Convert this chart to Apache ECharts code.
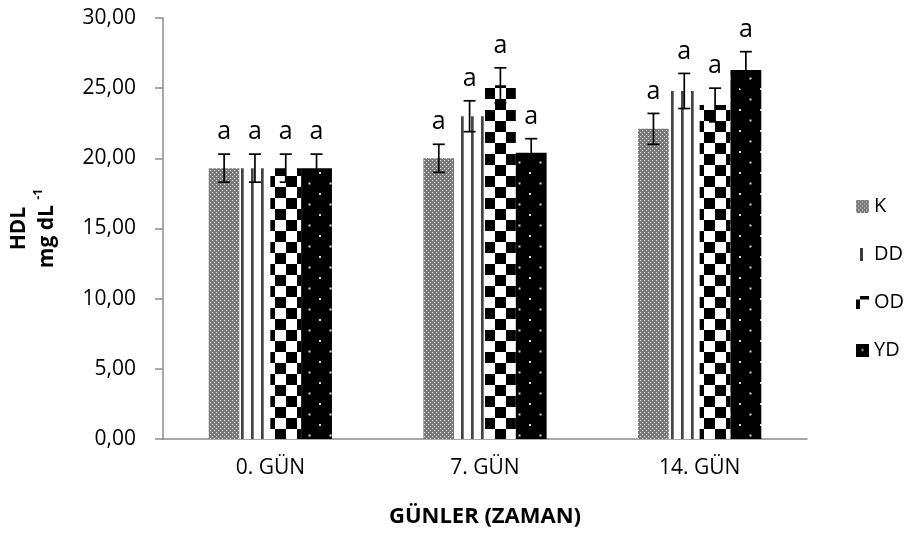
<!DOCTYPE html>
<html><head><meta charset="utf-8">
<script src="https://cdn.jsdelivr.net/npm/echarts@6/dist/echarts.min.js"></script>
<style>html,body{margin:0;padding:0;background:#fff}#c{width:905px;height:533px}</style>
</head><body><div id="c"></div>
<script>
// ---- data ----
const categories = ['0. GÜN', '7. GÜN', '14. GÜN'];
const seriesNames = ['K', 'DD', 'OD', 'YD'];
const valK  = [19.3, 20.0, 22.1];
const valDD = [19.3, 23.0, 24.8];
const valOD = [19.3, 25.2, 23.8];
const valYD = [19.3, 20.4, 26.3];
const errK  = [1.0, 1.0, 1.1];
const errDD = [1.0, 1.1, 1.25];
const errOD = [1.0, 1.25, 1.2];
const errYD = [1.0, 1.0, 1.3];
const letK  = ['a', 'a', 'a'];
const letDD = ['a', 'a', 'a'];
const letOD = ['a', 'a', 'a'];
const letYD = ['a', 'a', 'a'];
const yMin = 0, yMax = 30, yStep = 5;
const xTitle = 'GÜNLER (ZAMAN)';

const values = [valK, valDD, valOD, valYD];
const errors = [errK, errDD, errOD, errYD];
const letters = [letK, letDD, letOD, letYD];

// ---- patterns ----
function mk(w, h, draw) {
  const c = document.createElement('canvas'); c.width = w; c.height = h;
  const g = c.getContext('2d'); draw(g, w, h); return c;
}
function patK(g, w, h) {
  g.fillStyle = '#7a7a7a'; g.fillRect(0, 0, w, h);
  g.fillStyle = '#e6e6e6';
  for (let y = 0; y < h; y += 2) for (let x = (y / 2) % 2 ? 2 : 0; x < w; x += 4) g.fillRect(x, y, 1, 1);
}
const tileK = mk(4, 4, patK);
const tileDD = mk(10, 10, (g, w, h) => {
  g.fillStyle = '#fff'; g.fillRect(0, 0, w, h);
  g.fillStyle = '#454545'; g.fillRect(1, 0, 2.7, h);
});
const tileOD = mk(22, 22, (g, w, h) => {
  g.fillStyle = '#fff'; g.fillRect(0, 0, w, h);
  g.fillStyle = '#000'; g.fillRect(0, 0, 11, 11); g.fillRect(11, 11, 11, 11);
});
const tileYD = mk(21, 21, (g, w, h) => {
  g.fillStyle = '#000'; g.fillRect(0, 0, w, h);
  g.fillStyle = '#d8d8d8'; g.fillRect(4, 4, 2, 2); g.fillRect(14.5, 14.5, 2, 2);
});
const icons = [
  mk(13, 13, patK),
  mk(13, 13, (g, w, h) => { g.fillStyle = '#fff'; g.fillRect(0, 0, w, h); g.fillStyle = '#3a3a3a'; g.fillRect(4, 0, 3, h); }),
  mk(13, 13, (g, w, h) => { g.fillStyle = '#fff'; g.fillRect(0, 0, w, h); g.fillStyle = '#000'; g.fillRect(0, 4, 4, 9); g.fillRect(4, 0, 9, 4); }),
  mk(13, 13, (g, w, h) => { g.fillStyle = '#000'; g.fillRect(0, 0, w, h); g.fillStyle = '#bdbdbd'; g.fillRect(5.5, 5.5, 2, 2); })
].map(c => 'image://' + c.toDataURL());
const tiles = [tileK, tileDD, tileOD, tileYD];

const GAP = 0.426;
const FONT = '"Open Sans", "Noto Sans", sans-serif';

const barSeries = seriesNames.map((n, i) => ({
  name: n, type: 'bar', data: values[i],
  barGap: '0%', barCategoryGap: (GAP * 100) + '%',
  itemStyle: { color: { image: tiles[i], repeat: 'repeat' } },
  emphasis: { disabled: true }, animation: false
}));

const errData = [];
seriesNames.forEach((n, s) => categories.forEach((c, k) => errData.push([k, s, values[s][k], errors[s][k]])));

const errSeries = {
  type: 'custom', name: 'err', data: errData, z: 10, animation: false,
  encode: { x: 0, y: 2 },
  renderItem(params, api) {
    const k = api.value(0), s = api.value(1), v = api.value(2), e = api.value(3);
    const band = api.size([1, 0])[0];
    const bw = band * (1 - GAP) / 4;
    const cx = api.coord([k, 0])[0] - 2 * bw + (s + 0.5) * bw;
    const yT = api.coord([k, v + e])[1], yB = api.coord([k, v - e])[1];
    const st = { stroke: '#000', lineWidth: 1.7 };
    const hw = 6;
    return { type: 'group', children: [
      { type: 'line', shape: { x1: cx, y1: yT, x2: cx, y2: yB }, style: st },
      { type: 'line', shape: { x1: cx - hw, y1: yT, x2: cx + hw, y2: yT }, style: st },
      { type: 'line', shape: { x1: cx - hw, y1: yB, x2: cx + hw, y2: yB }, style: st },
      { type: 'text', style: { text: letters[s][k], x: cx, y: yT - 22, align: 'center', verticalAlign: 'middle',
        fontSize: 25, fontFamily: FONT, fill: '#000' } }
    ] };
  }
};

const chart = echarts.init(document.getElementById('c'), null, { renderer: 'canvas' });
chart.setOption({
  animation: false,
  backgroundColor: '#fff',
  grid: { left: 163, right: 98, top: 18, bottom: 92 },
  legend: {
    orient: 'vertical', left: 851, top: 191, itemWidth: 13, itemHeight: 13, itemGap: 28,
    selectedMode: false,
    data: seriesNames.map((n, i) => ({ name: n, icon: icons[i] })),
    textStyle: { fontSize: 20, fontFamily: FONT, color: '#000', lineHeight: 20 }
  },
  xAxis: {
    type: 'category', data: categories,
    axisLine: { lineStyle: { color: '#8c8c8c', width: 1.5 } },
    axisTick: { show: false },
    axisLabel: { fontSize: 21, fontFamily: FONT, color: '#000', margin: 19 },
    name: xTitle, nameLocation: 'middle', nameGap: 67,
    nameTextStyle: { fontSize: 22, fontWeight: 'bold', fontFamily: FONT, color: '#000' }
  },
  yAxis: {
    type: 'value', min: yMin, max: yMax, interval: yStep,
    axisLine: { show: true, lineStyle: { color: '#8c8c8c', width: 1.5 } },
    axisTick: { show: true, length: 8, lineStyle: { color: '#8c8c8c', width: 1.5 } },
    splitLine: { show: false },
    axisLabel: { fontSize: 21, fontFamily: FONT, color: '#000', margin: 27,
      formatter: v => v.toFixed(2).replace('.', ',') },
    name: '{b|HDL}\n{b|mg dL }{s|-1}', nameLocation: 'middle', nameGap: 102,
    nameTextStyle: {
      rich: {
        b: { fontSize: 21, fontWeight: 'bold', fontFamily: FONT, color: '#000', lineHeight: 28 },
        s: { fontSize: 12, fontWeight: 'bold', fontFamily: FONT, color: '#000', lineHeight: 28, verticalAlign: 'top', padding: [0, 0, 10, 0] }
      }
    }
  },
  series: [...barSeries, errSeries]
});
</script>
</body></html>
